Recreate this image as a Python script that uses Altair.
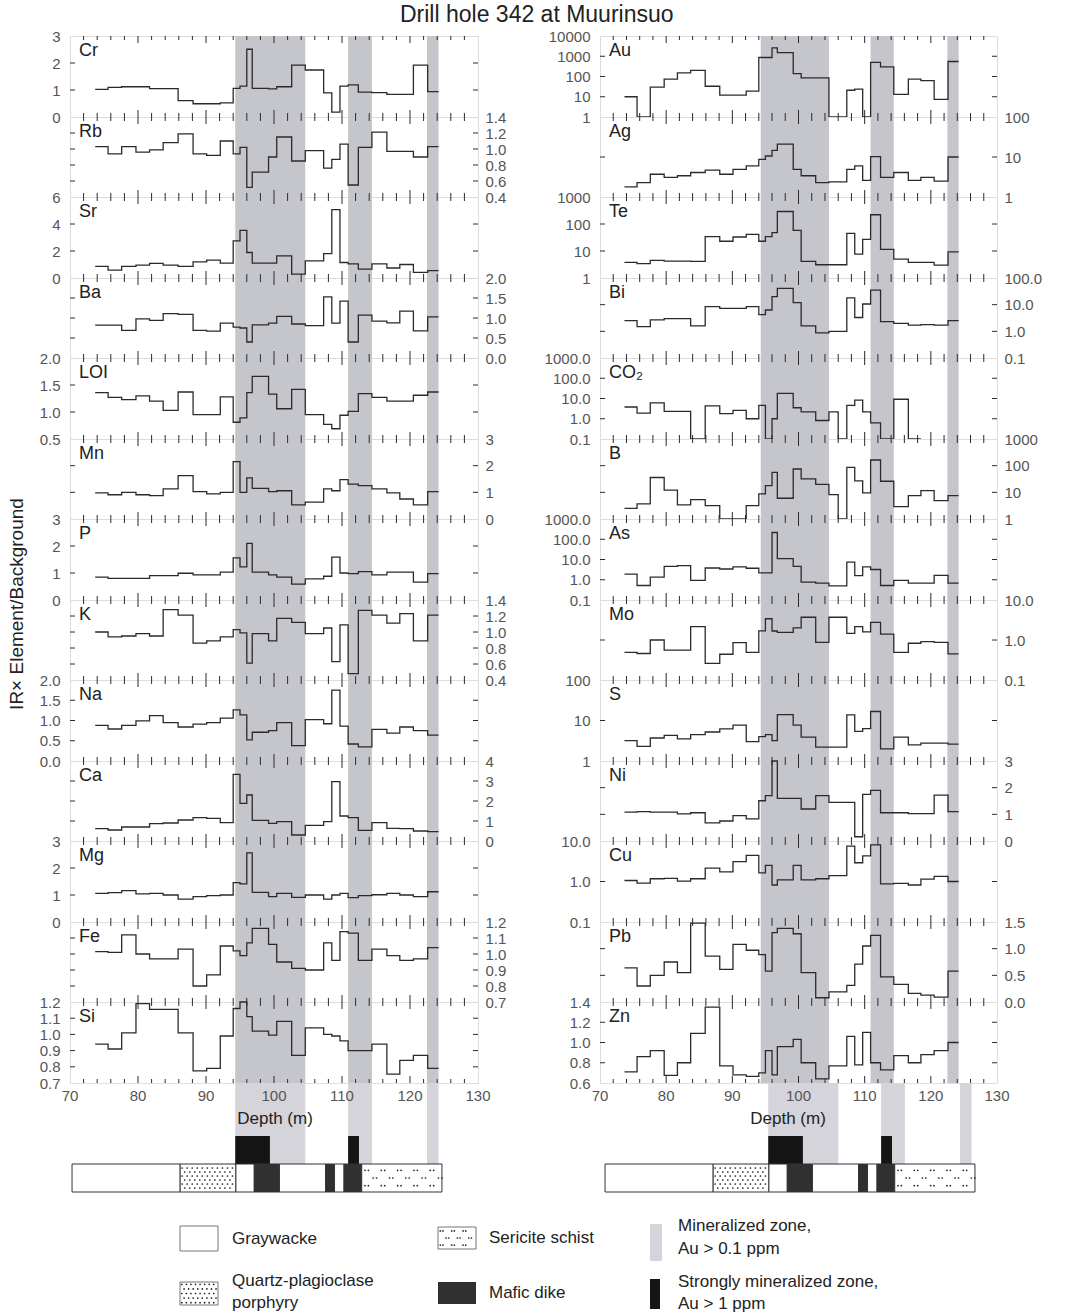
import altair as alt
import numpy as np
import pandas as pd

# Sample interval edges (m); each value below holds from one edge to the next.
DEPTH_EDGES = [73.7, 75.6, 77.6, 79.7, 81.7, 83.7, 85.9, 88.1, 90.1, 92.1, 94.0, 95.0,
               96.0, 96.8, 97.7, 99.2, 100.4, 102.6, 104.6, 106.0, 107.3, 108.5, 109.7,
               110.9, 112.4, 114.4, 116.6, 118.5, 120.5, 122.6, 124.2]

# Left column: IR x element / background
CR = [1.02, 1.10, 1.12, 1.12, 1.05, 1.05, 0.61, 0.49, 0.49, 0.52, 1.06, 1.14, 2.51, 1.06, 1.06,
      1.04, 1.12, 1.92, 1.74, 1.74, 0.89, 0.18, 1.14, 1.19, 0.92, 0.90, 0.84, 0.84, 1.92, 0.94]
RB = [1.03, 0.94, 1.03, 0.96, 0.99, 1.08, 1.19, 0.94, 0.92, 1.10, 0.94, 1.02, 0.52, 0.71, 0.71,
      0.90, 1.15, 0.85, 0.98, 0.98, 0.76, 0.87, 1.06, 0.55, 1.02, 1.21, 0.97, 0.97, 0.90, 1.03]
SR = [0.86, 0.59, 0.86, 0.96, 1.08, 0.96, 0.86, 1.20, 1.32, 1.10, 2.75, 3.53, 1.89, 1.10, 1.10,
      1.10, 1.64, 0.29, 1.27, 1.27, 1.81, 5.07, 1.15, 1.05, 0.66, 1.05, 0.74, 1.00, 0.42, 0.54]
BA = [0.82, 0.82, 0.69, 0.98, 0.94, 1.11, 1.09, 0.69, 0.67, 0.87, 0.77, 0.75, 0.40, 0.83, 0.83,
      0.87, 1.04, 0.85, 0.81, 0.81, 1.53, 0.87, 1.42, 0.40, 1.07, 0.92, 0.88, 1.17, 0.68, 1.03]
LOI = [1.36, 1.27, 1.23, 1.30, 1.20, 1.03, 1.37, 0.95, 0.95, 1.28, 0.81, 0.89, 1.36, 1.66, 1.66,
       1.33, 1.06, 1.42, 0.95, 0.95, 0.77, 0.69, 0.94, 1.01, 1.34, 1.27, 1.20, 1.20, 1.31, 1.37]
MN = [0.98, 0.91, 1.00, 0.91, 0.88, 1.13, 1.63, 1.03, 0.94, 1.00, 2.15, 1.00, 1.54, 1.15, 1.15,
      1.03, 1.06, 0.53, 0.63, 0.63, 1.13, 1.06, 1.48, 1.31, 1.25, 1.13, 0.98, 0.75, 0.53, 1.03]
P = [0.85, 0.80, 0.80, 0.80, 0.90, 0.90, 0.99, 0.93, 0.93, 1.03, 1.56, 1.23, 2.10, 1.03, 1.03,
     0.93, 0.85, 0.59, 0.78, 0.78, 0.88, 1.59, 1.00, 0.98, 1.05, 0.93, 1.03, 1.03, 0.66, 0.98]
K = [1.00, 0.94, 0.95, 0.98, 0.95, 1.28, 1.21, 0.86, 0.89, 0.94, 1.03, 0.99, 0.61, 0.98, 0.98,
     0.89, 1.17, 1.12, 0.98, 0.98, 1.05, 0.63, 1.09, 0.48, 1.27, 1.21, 1.11, 1.23, 0.89, 1.21]
NA = [0.88, 0.79, 0.88, 0.99, 1.12, 0.95, 0.84, 0.91, 0.95, 1.06, 1.26, 1.14, 0.52, 0.71, 0.71,
      0.75, 0.95, 0.38, 1.02, 1.02, 0.92, 1.75, 0.86, 0.42, 0.35, 0.78, 0.69, 0.84, 0.75, 0.64]
CA = [0.62, 0.55, 0.70, 0.70, 0.87, 0.90, 1.05, 1.17, 1.13, 0.92, 3.33, 1.88, 2.30, 1.03, 1.03,
      0.88, 0.97, 0.30, 0.78, 0.78, 0.97, 2.97, 1.25, 1.17, 0.53, 0.92, 0.63, 0.62, 0.50, 0.47]
MG = [1.06, 1.09, 1.16, 1.04, 1.06, 1.00, 0.85, 0.94, 0.98, 1.00, 1.46, 1.41, 2.56, 1.10, 1.10,
      0.94, 1.06, 0.91, 1.00, 1.00, 0.85, 1.00, 1.06, 0.90, 0.98, 1.01, 1.06, 1.00, 0.94, 1.12]
FE = [1.015, 1.01, 1.12, 1.00, 0.97, 0.97, 1.03, 0.80, 0.87, 1.05, 1.02, 0.99, 1.07, 1.16, 1.16,
      1.06, 0.95, 0.91, 0.90, 0.90, 1.07, 0.96, 1.14, 1.13, 0.96, 1.03, 0.99, 0.96, 0.97, 1.04]
SI = [0.94, 0.91, 1.01, 1.19, 1.155, 1.155, 1.01, 0.775, 0.79, 0.99, 1.16, 1.20, 1.11, 1.02, 1.02,
      0.995, 1.08, 0.87, 1.04, 1.04, 1.00, 0.99, 0.96, 0.90, 0.90, 0.94, 0.755, 0.84, 0.87, 0.79]

# Right column (values at the axis floor are below detection)
AU = [10, 1, 30, 74, 150, 200, 33, 12, 12, 19, 870, 870, 2600, 1500, 1500,
      140, 85, 85, 1, 1, 21, 24, 1, 500, 300, 13, 74, 63, 7.5, 550]
AG = [1.8, 2.3, 3.7, 3.1, 3.4, 4.1, 4.7, 3.7, 4.9, 6.0, 8.7, 10.6, 14.6, 21, 21,
      4.9, 3.4, 2.3, 2.4, 2.4, 4.9, 6.0, 2.6, 10.2, 3.1, 4.1, 2.6, 3.1, 2.5, 10]
TE = [3.8, 3.4, 4.5, 4.2, 4.2, 4.1, 34, 23, 33, 41, 23, 34, 48, 290, 290,
      58, 4.1, 3.1, 3.1, 3.1, 45, 7.6, 27, 220, 11.5, 5.0, 3.8, 3.8, 3.0, 9.3]
BI = [2.5, 1.5, 2.7, 3.0, 3.0, 1.6, 8.4, 7.3, 7.3, 8.4, 4.2, 6.3, 20, 41, 41,
      12, 1.6, 0.87, 1.0, 1.0, 18, 3.3, 10.6, 35, 2.3, 2.0, 1.7, 1.8, 1.7, 2.5]
CO2 = [3.8, 1.9, 6.1, 2.3, 2.3, 0.1, 4.3, 1.8, 2.6, 1.0, 4.6, 0.1, 1.0, 17.8, 17.8,
       3.5, 2.2, 0.82, 2.2, 0.1, 4.6, 8.3, 2.2, 0.63, 0.1, 9.2, 0.1, None, None, None]
B = [2.5, 3.7, 36, 12, 3.4, 5.3, 3.2, 1, 1, 3.2, 8.7, 18, 56, 6, 6,
     75, 32, 20, 8.2, 1, 87, 27, 9.5, 163, 26, 2.9, 7.5, 11.5, 4.9, 7.5]
AS = [1.9, 0.52, 1.36, 4.6, 5.0, 0.93, 3.8, 3.4, 4.3, 3.7, 2.2, 2.2, 215, 11, 11,
      4.6, 0.76, 0.68, 0.5, 0.5, 7.4, 1.6, 4.3, 3.2, 0.52, 0.93, 0.68, 0.68, 1.65, 0.68]
MO = [0.49, 0.46, 1.0, 0.56, 0.56, 2.15, 0.26, 0.44, 0.86, 0.49, 1.7, 3.4, 1.68, 1.55, 1.55,
      2.0, 3.7, 0.87, 3.7, 3.7, 1.47, 2.15, 1.6, 2.76, 1.41, 0.49, 0.83, 0.91, 0.87, 0.45]
S = [3.2, 2.3, 3.7, 4.3, 3.5, 4.5, 5.2, 6.2, 7.7, 3.0, 4.0, 4.5, 3.2, 14, 14,
     7.7, 3.9, 2.2, 2.2, 2.2, 13.7, 5.4, 6.3, 16.7, 2.0, 3.9, 2.5, 2.75, 2.75, 2.6]
NI = [1.08, 1.10, 1.08, 1.08, 1.02, 1.06, 0.68, 0.75, 0.95, 0.83, 1.51, 1.70, 3.0, 1.6, 1.6,
      1.6, 1.2, 1.7, 1.45, 1.45, 1.45, 0.16, 1.75, 1.9, 1.06, 1.06, 1.03, 1.03, 1.72, 1.10]
CU = [1.06, 0.91, 1.17, 1.2, 1.02, 1.17, 2.13, 1.72, 3.1, 4.4, 1.63, 2.5, 0.82, 1.1, 1.1,
      2.5, 1.1, 1.17, 1.4, 1.4, 7.5, 2.9, 4.3, 8.0, 0.87, 0.9, 0.82, 1.15, 1.34, 1.0]
PB = [0.64, 0.30, 0.50, 0.75, 0.55, 1.48, 0.86, 0.61, 1.08, 0.97, 0.89, 0.58, 1.30, 1.38, 1.38,
      1.28, 0.55, 0.08, 0.19, 0.19, 0.31, 0.71, 1.05, 1.25, 0.47, 0.33, 0.16, 0.13, 0.09, 0.58]
ZN = [0.71, 0.86, 0.92, 0.675, 0.80, 1.09, 1.35, 0.77, 0.68, 0.665, 0.70, 0.92, 0.68, 0.96, 0.96,
      1.03, 0.80, 0.64, 0.77, 0.77, 1.06, 0.78, 1.10, 0.80, 0.73, 0.87, 0.80, 0.88, 0.92, 1.00]

# Mineralized zones (Au > 0.1 ppm) and strongly mineralized zones (Au > 1 ppm), m
MIN_TOP = [94.3, 110.9, 122.5]
MIN_BASE = [104.6, 114.4, 124.2]
STRONG_TOP = [94.3, 110.9]
STRONG_BASE = [99.4, 112.5]

# Lithology log
LITHO_ROCK = ["Graywacke", "Quartz-plagioclase porphyry", "Graywacke", "Mafic dike",
              "Graywacke", "Mafic dike", "Graywacke", "Mafic dike", "Sericite schist"]
LITHO_TOP = [70.3, 86.2, 94.4, 97.1, 100.8, 107.6, 108.9, 110.3, 112.9]
LITHO_BASE = [86.2, 94.4, 97.1, 100.8, 107.6, 108.9, 110.3, 112.9, 124.7]

DEPTH_LABELS = [70, 80, 90, 100, 110, 120, 130]

# (element, values, domain, log scale, axis side, tick values, label format)
LEFT = [
    ("Cr", CR, [0, 3], False, "left", [0, 1, 2, 3], "d"),
    ("Rb", RB, [0.4, 1.4], False, "right", [0.4, 0.6, 0.8, 1.0, 1.2, 1.4], ".1f"),
    ("Sr", SR, [0, 6], False, "left", [0, 2, 4, 6], "d"),
    ("Ba", BA, [0, 2], False, "right", [0, 0.5, 1.0, 1.5, 2.0], ".1f"),
    ("LOI", LOI, [0.5, 2], False, "left", [0.5, 1.0, 1.5, 2.0], ".1f"),
    ("Mn", MN, [0, 3], False, "right", [0, 1, 2, 3], "d"),
    ("P", P, [0, 3], False, "left", [0, 1, 2, 3], "d"),
    ("K", K, [0.4, 1.4], False, "right", [0.4, 0.6, 0.8, 1.0, 1.2, 1.4], ".1f"),
    ("Na", NA, [0, 2], False, "left", [0, 0.5, 1.0, 1.5, 2.0], ".1f"),
    ("Ca", CA, [0, 4], False, "right", [0, 1, 2, 3, 4], "d"),
    ("Mg", MG, [0, 3], False, "left", [0, 1, 2, 3], "d"),
    ("Fe", FE, [0.7, 1.2], False, "right", [0.7, 0.8, 0.9, 1.0, 1.1, 1.2], ".1f"),
    ("Si", SI, [0.7, 1.2], False, "left", [0.7, 0.8, 0.9, 1.0, 1.1, 1.2], ".1f"),
]
RIGHT = [
    ("Au", AU, [1, 10000], True, "left", [1, 10, 100, 1000, 10000], "d"),
    ("Ag", AG, [1, 100], True, "right", [1, 10, 100], "d"),
    ("Te", TE, [1, 1000], True, "left", [1, 10, 100, 1000], "d"),
    ("Bi", BI, [0.1, 100], True, "right", [0.1, 1, 10, 100], ".1f"),
    ("CO₂", CO2, [0.1, 1000], True, "left", [0.1, 1, 10, 100, 1000], ".1f"),
    ("B", B, [1, 1000], True, "right", [1, 10, 100, 1000], "d"),
    ("As", AS, [0.1, 1000], True, "left", [0.1, 1, 10, 100, 1000], ".1f"),
    ("Mo", MO, [0.1, 10], True, "right", [0.1, 1, 10], ".1f"),
    ("S", S, [1, 100], True, "left", [1, 10, 100], "d"),
    ("Ni", NI, [0, 3], False, "right", [0, 1, 2, 3], "d"),
    ("Cu", CU, [0.1, 10], True, "left", [0.1, 1, 10], ".1f"),
    ("Pb", PB, [0, 1.5], False, "right", [0, 0.5, 1.0, 1.5], ".1f"),
    ("Zn", ZN, [0.6, 1.4], False, "left", [0.6, 0.8, 1.0, 1.2, 1.4], ".1f"),
]

FONT = "Liberation Sans"
LH = 109          # depth-label + lithology strip height
W_LEFT, W_RIGHT = 408, 397
INK = "#222222"
NUM = "#555555"
LINE = "#2a2a2a"
BAND = "#c5c5cc"
BAND_LIGHT = "#d4d4da"
MAFIC = "#303030"

XS = alt.Scale(domain=[70, 130], nice=False, zero=False)
MINOR = [d for d in range(72, 130, 2) if d % 10]
MAJOR = list(range(80, 130, 10))
band_df = pd.DataFrame({"top": MIN_TOP, "base": MIN_BASE})


def step_frame(values):
    """Points for a step-after line: one per interval plus the closing edge."""
    rows = [(DEPTH_EDGES[i], v) for i, v in enumerate(values) if v is not None]
    last = max(i for i, v in enumerate(values) if v is not None)
    rows.append((DEPTH_EDGES[last + 1], values[last]))
    return pd.DataFrame(rows, columns=["depth", "value"])


def panel(name, values, domain, log, side, ticks, fmt, width, h, ytitle=None):
    if log:
        ys = alt.Scale(type="log", domain=domain, nice=False)
    else:
        ys = alt.Scale(domain=domain, nice=False, zero=False)
    axis = alt.Axis(orient=side, values=ticks, format=fmt, title=None, ticks=False,
                    tickSize=0, domain=False, grid=False, labelFont=FONT,
                    labelFontSize=15, labelColor=NUM,
                    labelPadding=10 if side == "left" else 7,
                    labelOverlap=False, labelBound=False, labelFlush=False)
    layers = [
        alt.Chart(band_df).mark_rect(color=BAND).encode(
            x=alt.X("top:Q", scale=XS, axis=None), x2="base:Q",
            y=alt.value(0), y2=alt.value(h))
    ]
    # depth ticks on the upper and lower frame, pointing inwards
    for ds, ln in ((MINOR, 4), (MAJOR, 7)):
        base = alt.Chart(pd.DataFrame({"d": ds})).mark_rule(color=LINE, strokeWidth=1)
        layers.append(base.encode(x=alt.X("d:Q", scale=XS, axis=None),
                                  y=alt.value(0), y2=alt.value(ln)))
        layers.append(base.encode(x=alt.X("d:Q", scale=XS, axis=None),
                                  y=alt.value(h - ln), y2=alt.value(h)))
    layers.append(
        alt.Chart(step_frame(values)).mark_line(
            interpolate="step-after", color=LINE, strokeWidth=1.3).encode(
            x=alt.X("depth:Q", scale=XS, axis=None),
            y=alt.Y("value:Q", scale=ys, axis=axis)))
    # value ticks on both side frames, pointing inwards
    inner = [t for t in ticks if domain[0] < t < domain[1]]
    tb = alt.Chart(pd.DataFrame({"value": inner})).mark_rule(color=LINE, strokeWidth=1)
    layers.append(tb.encode(y=alt.Y("value:Q", scale=ys, axis=axis),
                            x=alt.value(0), x2=alt.value(5)))
    layers.append(tb.encode(y=alt.Y("value:Q", scale=ys, axis=axis),
                            x=alt.value(width - 5), x2=alt.value(width)))
    layers.append(
        alt.Chart(pd.DataFrame({"el": [name]})).mark_text(
            align="left", baseline="middle", font=FONT, fontSize=18, color=INK).encode(
            text="el:N", x=alt.value(9), y=alt.value(15)))
    if ytitle:
        layers.append(
            alt.Chart(pd.DataFrame({"t": [ytitle]})).mark_text(
                angle=270, align="center", baseline="middle", font=FONT, fontSize=19,
                color=INK).encode(text="t:N", x=alt.value(-53), y=alt.value(85)))
    return alt.layer(*layers).properties(width=width, height=h)


def stipple_dots(x0, x1, rows, step):
    """Staggered dot grid spanning [x0, x1] in the given rows (fractions of height)."""
    pts = []
    for r, yf in enumerate(rows):
        off = step / 2 if r % 2 else 0.0
        for x in np.arange(x0 + step * 0.4 + off, x1 - step * 0.2, step):
            pts.append((x, yf))
    return pts


def schist_dots(x0, x1, step, gap):
    """Rows of dot pairs for the schist symbol."""
    pts = []
    for r, yf in enumerate((0.18, 0.5, 0.82)):
        off = step / 2 if r == 1 else 0.0
        for x in np.arange(x0 + step * 0.2 + off, x1 - step * 0.2, step):
            pts.append((x, yf))
            pts.append((x + gap, yf))
    return pts


def texture_frames():
    """Dot textures for the porphyry and sericite schist intervals."""
    pts = []
    for rock, top, base in zip(LITHO_ROCK, LITHO_TOP, LITHO_BASE):
        if rock.startswith("Quartz"):
            pts += stipple_dots(top, base, [(r + 0.5) / 6 for r in range(6)], 0.74)
        elif rock.startswith("Sericite"):
            pts += schist_dots(top, base, 2.4, 0.5)
    return pd.DataFrame(pts, columns=["d", "f"])


def litho(width, log_range, title_x):
    """Depth labels plus the drill-core log; the log strip has its own pixel range."""
    rocks = ["Graywacke", "Quartz-plagioclase porphyry", "Mafic dike", "Sericite schist"]
    litho_df = pd.DataFrame({"rock": LITHO_ROCK, "top": LITHO_TOP, "base": LITHO_BASE})
    strong_df = pd.DataFrame({"top": STRONG_TOP, "base": STRONG_BASE})
    ls = alt.Scale(domain=[70, 130], range=log_range, nice=False, zero=False)
    strip = alt.layer(
        alt.Chart(band_df).mark_rect(color=BAND_LIGHT).encode(
            x=alt.X("top:Q", scale=ls, axis=None), x2="base:Q",
            y=alt.value(0), y2=alt.value(81)),
        alt.Chart(strong_df).mark_rect(color="#151515").encode(
            x=alt.X("top:Q", scale=ls, axis=None), x2="base:Q",
            y=alt.value(53), y2=alt.value(81)),
        alt.Chart(litho_df).mark_rect(stroke="#333333", strokeWidth=1).encode(
            x=alt.X("top:Q", scale=ls, axis=None), x2="base:Q",
            y=alt.value(81), y2=alt.value(LH),
            fill=alt.Fill("rock:N", legend=None,
                          scale=alt.Scale(domain=rocks,
                                          range=["#ffffff", "#ffffff", MAFIC, "#ffffff"]))),
        alt.Chart(texture_frames()).mark_circle(size=3, color="#222222", opacity=1).encode(
            x=alt.X("d:Q", scale=ls, axis=None),
            y=alt.Y("f:Q", scale=alt.Scale(domain=[0, 1], range=[83, LH - 2]), axis=None)),
    )
    labels = alt.layer(
        alt.Chart(pd.DataFrame({"d": DEPTH_LABELS})).mark_text(
            baseline="middle", font=FONT, fontSize=15, color=NUM).encode(
            x=alt.X("d:Q", scale=XS, axis=None), text=alt.Text("d:Q", format="d"),
            y=alt.value(13)),
        alt.Chart(pd.DataFrame({"t": ["Depth (m)"]})).mark_text(
            baseline="middle", font=FONT, fontSize=17, color=INK).encode(
            text="t:N", x=alt.value(title_x), y=alt.value(36)),
    )
    return alt.layer(strip, labels).resolve_scale(x="independent").properties(
        width=width, height=LH, view=alt.ViewConfig(stroke=None))


def one(text):
    return pd.DataFrame({"t": [text]})


def legend_block():
    def txt(text, x, y):
        return alt.Chart(one(text)).mark_text(
            align="left", baseline="middle", font=FONT, fontSize=17, color=INK).encode(
            text="t:N", x=alt.value(x), y=alt.value(y))

    def box(x, x2, y, y2, fill, stroke=None):
        kw = {"fill": fill}
        if stroke:
            kw.update(stroke=stroke, strokeWidth=1)
        return alt.Chart(one("")).mark_rect(**kw).encode(
            x=alt.value(x), x2=alt.value(x2), y=alt.value(y), y2=alt.value(y2))

    def texture(pts, xr, yr):
        # dot symbol drawn inside a swatch whose pixel box is xr x yr
        df = pd.DataFrame(pts, columns=["fx", "fy"])
        return alt.Chart(df).mark_circle(size=3, color="#222222", opacity=1).encode(
            x=alt.X("fx:Q", scale=alt.Scale(domain=[0, 1], range=xr), axis=None),
            y=alt.Y("fy:Q", scale=alt.Scale(domain=[0, 1], range=yr), axis=None))

    porphyry = stipple_dots(0, 1, [(r + 0.5) / 5 for r in range(5)], 0.12)
    schist = schist_dots(0, 1, 0.3, 0.07)
    layers = [
        box(110, 148, 34, 59, "#ffffff", "#777777"),
        txt("Graywacke", 162, 47),
        box(110, 148, 90, 113, "#ffffff", "#777777"),
        texture(porphyry, [110, 148], [90, 113]),
        txt("Quartz-plagioclase", 162, 89),
        txt("porphyry", 162, 111),
        box(368, 406, 35, 57, "#ffffff", "#777777"),
        texture(schist, [368, 406], [35, 57]),
        txt("Sericite schist", 419, 46),
        box(368, 406, 90, 112, MAFIC),
        txt("Mafic dike", 419, 101),
        box(580, 592, 32, 69, BAND_LIGHT),
        txt("Mineralized zone,", 608, 34),
        txt("Au > 0.1 ppm", 608, 57),
        box(580, 590, 87, 117, "#151515"),
        txt("Strongly mineralized zone,", 608, 90),
        txt("Au > 1 ppm", 608, 112),
    ]
    # the block spans both columns; its nominal width stays within the first one
    return alt.layer(*layers).resolve_scale(x="independent", y="independent").properties(
        width=W_LEFT, height=118, view=alt.ViewConfig(stroke=None))


# Grid of cells, two per row: left-column panel, right-column panel.
cells = []
for i in range(13):
    h = 81 if i % 2 == 0 else 80
    cells.append(panel(*LEFT[i], width=W_LEFT, h=h,
                       ytitle="IR× Element/Background" if i == 6 else None))
    cells.append(panel(*RIGHT[i], width=W_RIGHT, h=h))
cells.append(litho(W_LEFT, [0, W_LEFT], 205))
cells.append(litho(W_RIGHT, [3, 3 + W_LEFT], 188))
cells.append(legend_block())

chart = alt.ConcatChart(
    concat=cells, columns=2, spacing={"row": 0, "column": 122},
    bounds="flush", align="none",
    title=alt.TitleParams("Drill hole 342 at Muurinsuo", font=FONT, fontSize=23,
                          fontWeight="normal", color=INK, anchor="middle", offset=2, dx=12),
    padding={"left": 7, "top": 3, "right": 5, "bottom": 0},
).configure_view(stroke="#333333", strokeWidth=1).configure(background="white")

chart.save("out.html", embed_options={"renderer": "svg", "actions": False})
